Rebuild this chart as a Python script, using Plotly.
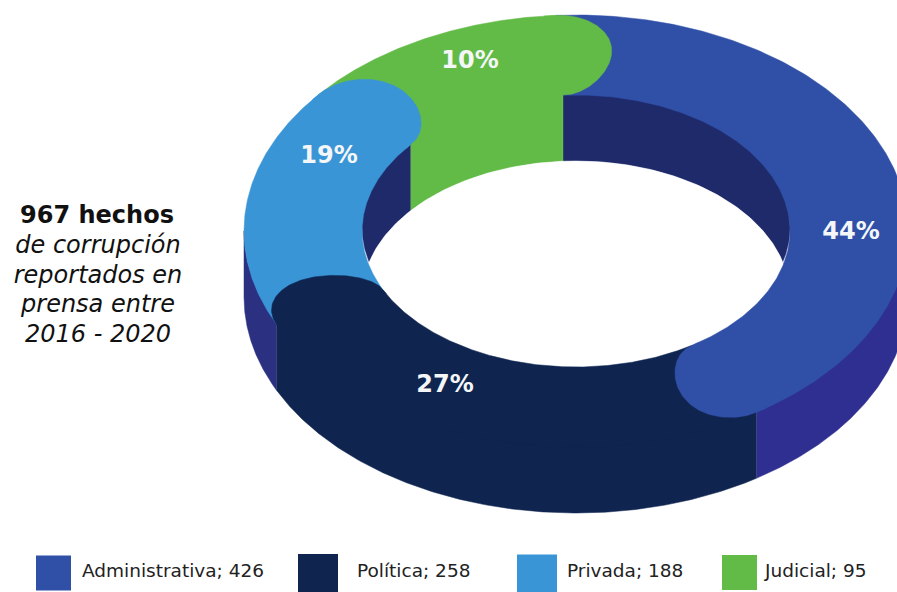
import numpy as np
import plotly.graph_objects as go

categories = ["Administrativa", "Política", "Privada", "Judicial"]
counts = [426, 258, 188, 95]
shares = ["44%", "27%", "19%", "10%"]

top_colors = ["#3050a8", "#0f2550", "#3a95d6", "#62bb46"]
outer_wall_colors = ["#2e2f90", "#0f2550", "#2b3080", "#62bb46"]
inner_wall_colors = ["#1f2a6b", "#1f2a6b", "#1f2a6b", "#62bb46"]

# Drawing geometry of the tilted ring (pixels of the 897x592 page)
CX, CY = 576, 231
RX_OUT, RY_OUT = 332, 216
RX_IN, RY_IN = 214, 136
DEPTH = 66
START = -3.5
TILT_SHIFT = [-8, -6.7, -11.7, 0]   # foreshortening of the drawn slice ends
CAP_HALF = 0.5
CAP_LEN = [0.18, 0.18, 0.21, 0.19]

label_xy = [(851, 233), (445, 386), (329, 157), (470, 62)]
legend_square_x = [53.5, 318, 537, 739.5]
legend_square_y = [573, 574, 574.5, 572.5]
legend_square_size = [35, 40, 40, 35]
legend_text_x = [82, 357, 567, 765]
side_lines = ["de corrupción", "reportados en", "prensa entre", "2016 - 2020"]


def ring_xy(u, deg, dy=0.0):
    """u=0 inner edge, u=1 outer edge; deg clockwise from 12 o'clock."""
    t = np.radians(deg)
    rx = RX_IN + (RX_OUT - RX_IN) * u
    ry = RY_IN + (RY_OUT - RY_IN) * u
    return CX + rx * np.sin(t), CY - ry * np.cos(t) + dy


def poly(x, y, color, name):
    return go.Scatter(x=list(x), y=list(y), mode="lines", fill="toself", fillcolor=color,
                      line=dict(color=color, width=0.5), hoverinfo="skip", showlegend=False, name=name)


total = sum(counts)
ends = START + np.cumsum(counts) / total * 360 + np.array(TILT_SHIFT)
starts = np.concatenate([[START], ends[:-1]])

fig = go.Figure()

# outer walls: only the front half shows; tucked slightly under the top face so no seam shows
for i, name in enumerate(categories):
    lo, hi = max(starts[i], 90), min(ends[i], 270)
    if hi <= lo:
        continue
    th = np.linspace(lo, hi, 200)
    lift = -4 * np.clip(-np.cos(np.radians(th)), 0, 1)
    x1, y1 = ring_xy(1, th, lift)
    x2, y2 = ring_xy(1, th[::-1], DEPTH)
    fig.add_trace(poly(np.r_[x1, x2], np.r_[y1, y2], outer_wall_colors[i], name))

# inner walls
for i, name in enumerate(categories):
    th = np.linspace(starts[i], ends[i], 200)
    x1, y1 = ring_xy(0, th, -4)
    x2, y2 = ring_xy(0, th[::-1], DEPTH)
    fig.add_trace(poly(np.r_[x1, x2], np.r_[y1, y2], inner_wall_colors[i], name))

# see-through hole
th = np.linspace(0, 360, 361)
hx, hy = ring_xy(0, th, DEPTH)
fig.add_trace(poly(hx, hy, "#ffffff", "hole"))

# top faces
for i, name in enumerate(categories):
    th = np.linspace(starts[i], ends[i], 200)
    x1, y1 = ring_xy(1, th)
    x2, y2 = ring_xy(0, th[::-1])
    fig.add_trace(poly(np.r_[x1, x2], np.r_[y1, y2], top_colors[i], name))

# rounded slice ends lying over the next slice (overlap back into own slice hides seams)
for i, name in enumerate(categories):
    a = np.linspace(-np.pi / 2, np.pi / 2, 80)
    u = 0.5 + CAP_HALF * np.sin(a)
    deg = ends[i] + np.degrees(CAP_LEN[i] * np.cos(a))
    x, y = ring_xy(u, deg)
    bx1, by1 = ring_xy(1.0, ends[i] - 2)
    bx0, by0 = ring_xy(0.0, ends[i] - 2)
    fig.add_trace(poly(np.r_[bx0, x, bx1], np.r_[by0, y, by1], top_colors[i], name))

# percentage labels
fig.add_trace(go.Scatter(x=[p[0] for p in label_xy], y=[p[1] for p in label_xy], mode="text", text=shares,
                         textfont=dict(family="DejaVu Sans", size=24, color="#f4f6f8", weight="bold"),
                         textposition="middle center", hoverinfo="skip", showlegend=False))

# legend
fig.add_trace(go.Scatter(x=legend_square_x, y=legend_square_y, mode="markers",
                         marker=dict(symbol="square", size=legend_square_size, color=top_colors,
                                     opacity=1, line=dict(width=0)),
                         hoverinfo="skip", showlegend=False))
fig.add_trace(go.Scatter(x=legend_text_x, y=[572] * 4, mode="text",
                         text=[f"{c}; {n}" for c, n in zip(categories, counts)],
                         textposition="middle right",
                         textfont=dict(family="DejaVu Sans", size=18.5, color="#222222"),
                         hoverinfo="skip", showlegend=False))

# side note
fig.add_trace(go.Scatter(x=[97], y=[217], mode="text", text=[f"{total} hechos"],
                         textfont=dict(family="DejaVu Sans", size=24, color="#111111", weight="bold"),
                         hoverinfo="skip", showlegend=False))
fig.add_trace(go.Scatter(x=[98] * 4, y=[247, 277, 306, 336], mode="text", text=side_lines,
                         textfont=dict(family="DejaVu Sans", size=24, color="#111111", style="italic"),
                         hoverinfo="skip", showlegend=False))

fig.update_layout(
    width=897, height=592, margin=dict(l=0, r=0, t=0, b=0),
    paper_bgcolor="#ffffff", plot_bgcolor="#ffffff", showlegend=False,
    xaxis=dict(range=[0, 897], visible=False, fixedrange=True),
    yaxis=dict(range=[592, 0], visible=False, fixedrange=True),
)
fig.write_html("out.html", config={"displayModeBar": False},
               post_script="document.body.style.margin='0';document.body.style.overflow='hidden';")
